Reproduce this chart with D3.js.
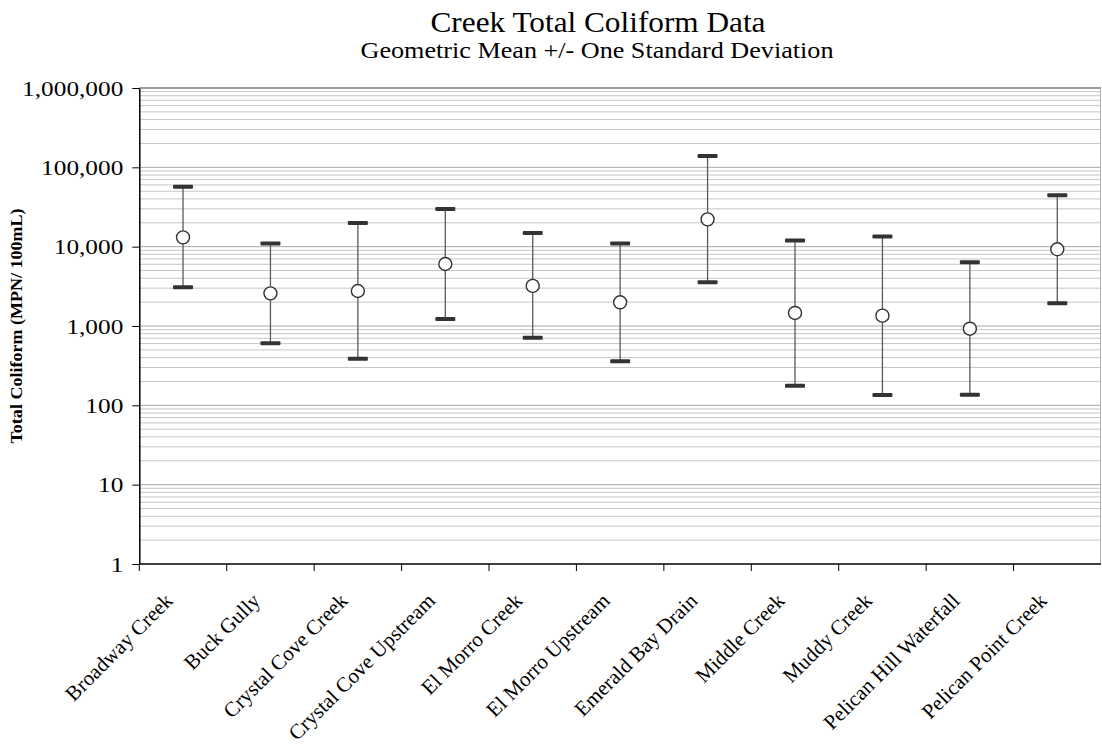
<!DOCTYPE html>
<html>
<head>
<meta charset="utf-8">
<script src="https://cdn.jsdelivr.net/npm/d3@7"></script>
<style>
  body { margin: 0; background: #fff; }
  svg text { font-family: "Liberation Serif", "Times New Roman", serif; fill: #000; }
</style>
</head>
<body>
<svg id="chart"></svg>
<script>
const sites = [
  "Broadway Creek", "Buck Gully", "Crystal Cove Creek", "Crystal Cove Upstream",
  "El Morro Creek", "El Morro Upstream", "Emerald Bay Drain", "Middle Creek",
  "Muddy Creek", "Pelican Hill Waterfall", "Pelican Point Creek"
];
// geometric mean, mean + 1 sd, mean - 1 sd (MPN/100mL)
const geoMean = [13100, 2580, 2760, 6050, 3200, 1990, 22100, 1460, 1350, 925, 9270];
const upper   = [57000, 11000, 19900, 29900, 14900, 11000, 139000, 12000, 13400, 6360, 44400];
const lower   = [3080, 605, 387, 1225, 710, 359, 3560, 177, 135, 136, 1930];
const yTicks  = [1, 10, 100, 1000, 10000, 100000, 1000000];

const W = 1102, H = 751;
const plot = { left: 139.3, right: 1101, top: 88, bottom: 564 };

const svg = d3.select('#chart').attr('width', W).attr('height', H);

const x = d3.scaleBand().domain(sites).range([plot.left, plot.right]);
const y = d3.scaleLog().domain([1, 1000000]).range([plot.bottom, plot.top]);

// widen text a little, the original chart was stretched sideways
function stretch(sel, k) {
  sel.each(function () {
    const len = this.getComputedTextLength();
    d3.select(this).attr('textLength', len * k).attr('lengthAdjust', 'spacingAndGlyphs');
  });
}

// gridlines: minor 2..9 in each decade, major at decades
const minor = [];
yTicks.slice(0, -1).forEach((d) => {
  for (let k = 2; k <= 9; k++) minor.push(d * k);
});
const grid = svg.append('g');
grid.selectAll('line.minor').data(minor).enter().append('line')
  .attr('x1', plot.left).attr('x2', plot.right)
  .attr('y1', (d) => y(d)).attr('y2', (d) => y(d))
  .attr('stroke', '#c6c6c6').attr('stroke-width', 1);
grid.selectAll('line.major').data(yTicks.slice(1)).enter().append('line')
  .attr('x1', plot.left).attr('x2', plot.right)
  .attr('y1', (d) => y(d)).attr('y2', (d) => y(d))
  .attr('stroke', (d) => d === 1000000 ? '#7a7a7a' : '#a8a8a8')
  .attr('stroke-width', (d) => d === 1000000 ? 1.5 : 1);
// right border
grid.append('line')
  .attr('x1', plot.right - 0.5).attr('x2', plot.right - 0.5)
  .attr('y1', plot.top).attr('y2', plot.bottom)
  .attr('stroke', '#b0b0b0');

// y axis
const yAxis = d3.axisLeft(y).tickValues(yTicks).tickFormat(d3.format(','))
  .tickSizeInner(7).tickSizeOuter(0).tickPadding(9);
const gy = svg.append('g').attr('transform', `translate(${plot.left},0)`).call(yAxis);
gy.select('.domain').attr('stroke', '#000').attr('stroke-width', 1.5);
gy.selectAll('.tick line').attr('stroke', '#000');
gy.selectAll('.tick text').attr('font-size', 22).attr('font-family', 'Liberation Serif');
stretch(gy.selectAll('.tick text'), 1.15);

// x axis: ticks at category boundaries
const gx = svg.append('g');
gx.append('line')
  .attr('x1', plot.left).attr('x2', plot.right)
  .attr('y1', plot.bottom).attr('y2', plot.bottom)
  .attr('stroke', '#000').attr('stroke-width', 1.5);
gx.selectAll('line.tick').data(sites).enter().append('line')
  .attr('x1', (d) => x(d)).attr('x2', (d) => x(d))
  .attr('y1', plot.bottom).attr('y2', plot.bottom + 7)
  .attr('stroke', '#000');
gx.selectAll('text').data(sites).enter().append('text')
  .attr('transform', (d) => `translate(${x(d) + x.bandwidth() / 2 - 9},${plot.bottom + 38}) rotate(-45)`)
  .attr('text-anchor', 'end')
  .attr('font-size', 21)
  .text((d) => d);

// error bars
const rows = sites.map((s, i) => ({ site: s, mean: geoMean[i], hi: upper[i], lo: lower[i] }));
const bars = svg.append('g').selectAll('g').data(rows).enter().append('g')
  .attr('transform', (d) => `translate(${x(d.site) + x.bandwidth() / 2},0)`);
bars.append('line')
  .attr('y1', (d) => y(d.hi)).attr('y2', (d) => y(d.lo))
  .attr('stroke', '#5a5a5a').attr('stroke-width', 1.3);
bars.selectAll('rect').data((d) => [d.hi, d.lo]).enter().append('rect')
  .attr('x', -10).attr('width', 20)
  .attr('y', (v) => y(v) - 2).attr('height', 4)
  .attr('rx', 1)
  .attr('fill', '#333');
bars.append('circle')
  .attr('cy', (d) => y(d.mean)).attr('r', 6.5)
  .attr('fill', '#fff').attr('stroke', '#333').attr('stroke-width', 1.4);

// titles
svg.append('text').attr('x', 598).attr('y', 32).attr('text-anchor', 'middle')
  .attr('font-size', 30).attr('textLength', 335).attr('lengthAdjust', 'spacingAndGlyphs')
  .text('Creek Total Coliform Data');
svg.append('text').attr('x', 597).attr('y', 58).attr('text-anchor', 'middle')
  .attr('font-size', 23).attr('textLength', 473).attr('lengthAdjust', 'spacingAndGlyphs')
  .text('Geometric Mean +/- One Standard Deviation');
svg.append('text')
  .attr('transform', `translate(22,${(plot.top + plot.bottom) / 2}) rotate(-90)`)
  .attr('text-anchor', 'middle').attr('font-weight', 'bold').attr('font-size', 17)
  .attr('textLength', 235).attr('lengthAdjust', 'spacingAndGlyphs')
  .text('Total Coliform (MPN/ 100mL)');
</script>
</body>
</html>
